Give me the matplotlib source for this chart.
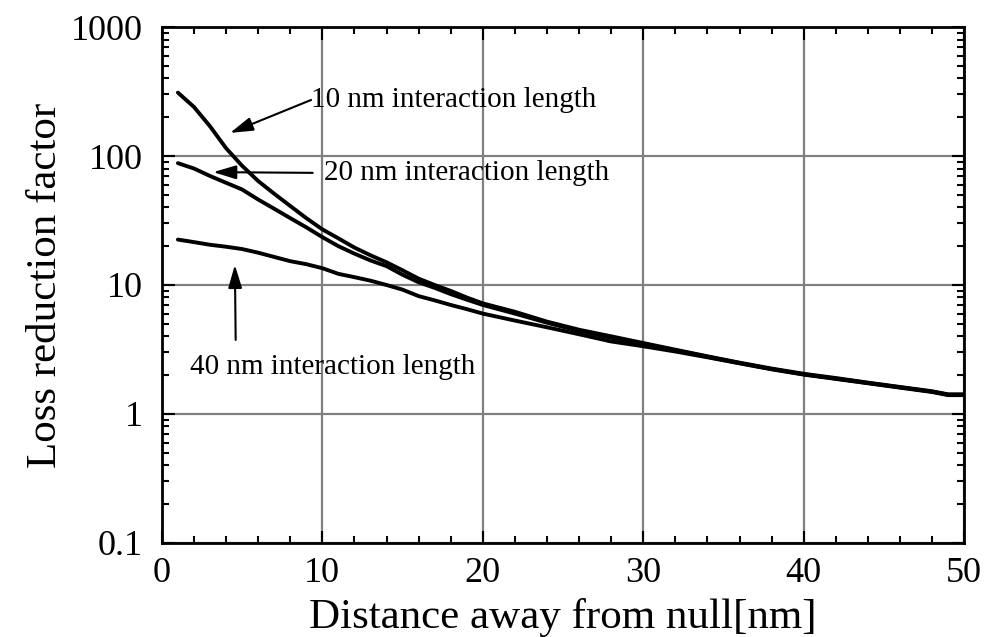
import matplotlib.pyplot as plt
import numpy as np
from matplotlib.ticker import FixedLocator, LogLocator, NullFormatter, FixedFormatter

# distance from null [nm]
dist = [1, 2, 3, 4, 5, 6, 7, 8, 9, 10, 11, 12, 13, 14, 15, 16, 17, 18, 19, 20,
        22, 24, 26, 28, 30, 32, 34, 36, 38, 40, 42, 44, 46, 48, 49, 50]

# loss reduction factor for each interaction length
loss_10nm = [310, 240, 170, 115, 84, 64, 51, 41, 33, 27, 23, 19.5, 17, 15, 13,
             11.2, 10, 9, 8, 7.2, 6.2, 5.2, 4.5, 4.0, 3.55, 3.15, 2.8, 2.5,
             2.25, 2.05, 1.9, 1.75, 1.62, 1.5, 1.42, 1.42]
loss_20nm = [88, 80, 70, 62, 55, 46, 39, 33, 28, 23.5, 20, 17.5, 15.5, 14, 12,
             10.5, 9.5, 8.5, 7.7, 7.0, 6.0, 5.1, 4.4, 3.9, 3.5, 3.12, 2.78,
             2.48, 2.23, 2.03, 1.88, 1.74, 1.61, 1.49, 1.41, 1.41]
loss_40nm = [22.5, 21.5, 20.5, 19.8, 19, 17.8, 16.5, 15.3, 14.5, 13.5, 12.2,
             11.5, 10.8, 10.0, 9.2, 8.2, 7.6, 7.0, 6.5, 6.0, 5.3, 4.7, 4.15,
             3.65, 3.35, 3.05, 2.75, 2.47, 2.22, 2.02, 1.87, 1.73, 1.6, 1.48,
             1.4, 1.4]

ytick_vals = [0.1, 1, 10, 100, 1000]
ytick_labels = ["0.1", "1", "10", "100", "1000"]

plt.rcParams['font.family'] = ['Liberation Serif', 'DejaVu Serif']

fig = plt.figure(figsize=(9.93, 6.37), dpi=100)
ax = fig.add_axes([0.163, 0.1476, 0.808, 0.81])

for series in (loss_10nm, loss_20nm, loss_40nm):
    ax.plot(dist, series, color='black', lw=2.8, solid_joinstyle='round',
            solid_capstyle='round', zorder=3)

ax.set_yscale('log')
ax.set_xlim(0, 50)
ax.set_ylim(0.1, 1000)

ax.xaxis.set_major_locator(FixedLocator([0, 10, 20, 30, 40, 50]))
ax.xaxis.set_minor_locator(FixedLocator(np.arange(0, 51, 2)))
ax.yaxis.set_major_locator(FixedLocator(ytick_vals))
ax.yaxis.set_major_formatter(FixedFormatter(ytick_labels))
ax.yaxis.set_minor_locator(LogLocator(base=10, subs=np.arange(2, 10)))
ax.yaxis.set_minor_formatter(NullFormatter())

ax.tick_params(which='both', direction='in', top=True, right=True,
               width=1.5, colors='black', labelsize=26)
ax.tick_params(which='major', length=9)
ax.tick_params(which='minor', length=5)
ax.tick_params(axis='x', which='major', pad=10)
ax.tick_params(axis='y', which='major', pad=14)

ax.grid(True, which='major', color='#808080', lw=1.6, zorder=1)
for s in ax.spines.values():
    s.set_linewidth(2)

ax.set_xlabel('Distance away from null[nm]', fontsize=31, labelpad=6)
ax.set_ylabel('Loss reduction factor', fontsize=31, labelpad=4)

arrow = dict(arrowstyle='-|>,head_length=1.4,head_width=0.42', lw=1.5,
             color='black', shrinkA=0, shrinkB=0)
ax.annotate('', xy=(4.25, 151), xytext=(9.3, 272), arrowprops=arrow)
ax.text(9.3, 272, '10 nm interaction length', fontsize=21, va='center', ha='left')
ax.annotate('', xy=(3.2, 75), xytext=(9.4, 74), arrowprops=arrow)
ax.text(10.1, 74, '20 nm interaction length', fontsize=21, va='center', ha='left')
ax.annotate('', xy=(4.55, 14.3), xytext=(4.6, 3.75), arrowprops=arrow)
ax.text(1.75, 2.31, '40 nm interaction length', fontsize=21, va='center', ha='left')

fig.savefig('out.png', dpi=100)
